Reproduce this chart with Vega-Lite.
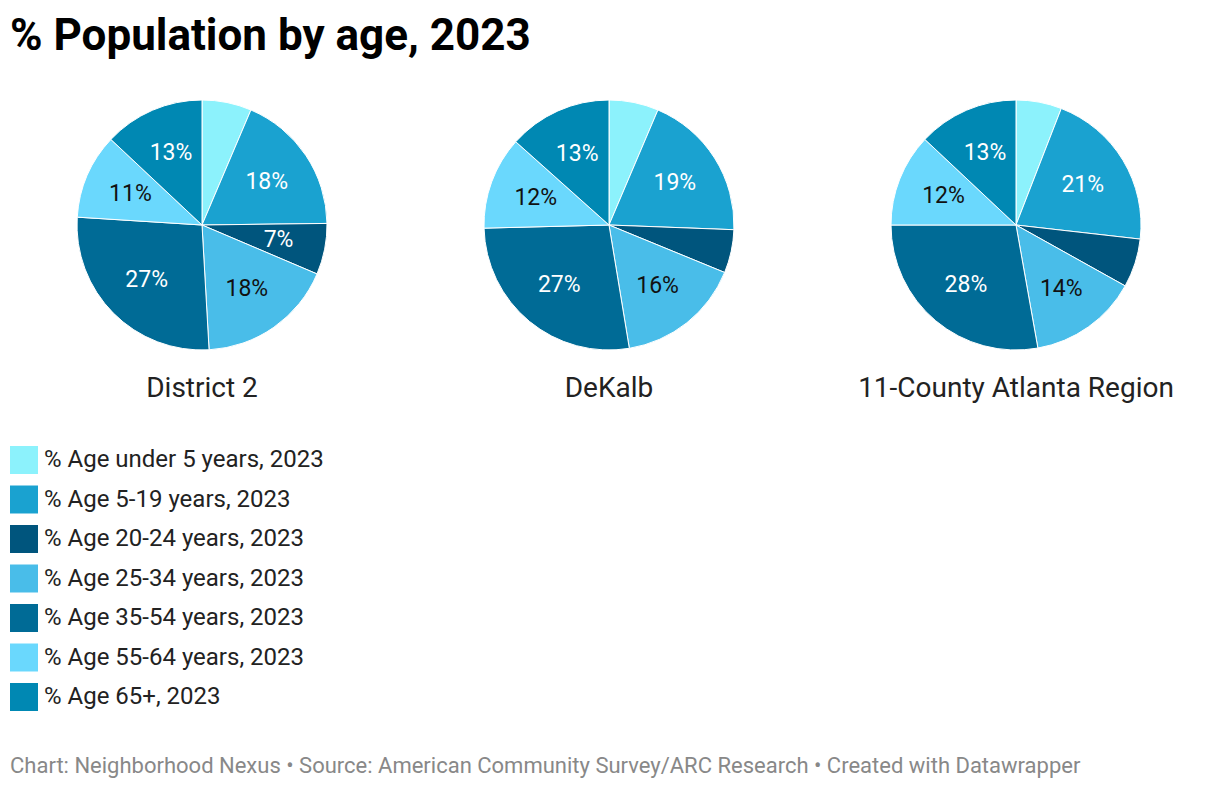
{
  "$schema": "https://vega.github.io/schema/vega-lite/v6.json",
  "background": "white",
  "padding": {"left": 10, "top": 15, "right": 5, "bottom": 10},
  "title": {
    "text": "Chart: Neighborhood Nexus • Source: American Community Survey/ARC Research • Created with Datawrapper",
    "orient": "bottom",
    "anchor": "start",
    "font": "Roboto",
    "fontSize": 22,
    "fontWeight": "normal",
    "color": "#888888",
    "offset": 45
  },
  "data": {
    "values": [
      {"region": "District 2", "age": "% Age under 5 years, 2023", "order": 1, "value": 0.064},
      {"region": "District 2", "age": "% Age 5-19 years, 2023", "order": 2, "value": 0.184},
      {"region": "District 2", "age": "% Age 20-24 years, 2023", "order": 3, "value": 0.066},
      {"region": "District 2", "age": "% Age 25-34 years, 2023", "order": 4, "value": 0.177},
      {"region": "District 2", "age": "% Age 35-54 years, 2023", "order": 5, "value": 0.269},
      {"region": "District 2", "age": "% Age 55-64 years, 2023", "order": 6, "value": 0.11},
      {"region": "District 2", "age": "% Age 65+, 2023", "order": 7, "value": 0.13},
      {"region": "DeKalb", "age": "% Age under 5 years, 2023", "order": 1, "value": 0.064},
      {"region": "DeKalb", "age": "% Age 5-19 years, 2023", "order": 2, "value": 0.192},
      {"region": "DeKalb", "age": "% Age 20-24 years, 2023", "order": 3, "value": 0.056},
      {"region": "DeKalb", "age": "% Age 25-34 years, 2023", "order": 4, "value": 0.162},
      {"region": "DeKalb", "age": "% Age 35-54 years, 2023", "order": 5, "value": 0.272},
      {"region": "DeKalb", "age": "% Age 55-64 years, 2023", "order": 6, "value": 0.12},
      {"region": "DeKalb", "age": "% Age 65+, 2023", "order": 7, "value": 0.134},
      {"region": "11-County Atlanta Region", "age": "% Age under 5 years, 2023", "order": 1, "value": 0.059},
      {"region": "11-County Atlanta Region", "age": "% Age 5-19 years, 2023", "order": 2, "value": 0.209},
      {"region": "11-County Atlanta Region", "age": "% Age 20-24 years, 2023", "order": 3, "value": 0.063},
      {"region": "11-County Atlanta Region", "age": "% Age 25-34 years, 2023", "order": 4, "value": 0.141},
      {"region": "11-County Atlanta Region", "age": "% Age 35-54 years, 2023", "order": 5, "value": 0.278},
      {"region": "11-County Atlanta Region", "age": "% Age 55-64 years, 2023", "order": 6, "value": 0.12},
      {"region": "11-County Atlanta Region", "age": "% Age 65+, 2023", "order": 7, "value": 0.13}
    ]
  },
  "facet": {
    "column": {
      "field": "region",
      "type": "nominal",
      "sort": ["District 2", "DeKalb", "11-County Atlanta Region"],
      "title": "% Population by age, 2023",
      "header": {
        "labelOrient": "bottom",
        "labelFont": "Roboto",
        "labelFontSize": 28,
        "labelColor": "#222222",
        "labelPadding": 23,
        "titleOrient": "top",
        "titleAnchor": "start",
        "titleFont": "Roboto",
        "titleFontSize": 44,
        "titleFontWeight": "bold",
        "titleColor": "#000000",
        "titlePadding": 29
      }
    }
  },
  "spacing": 23,
  "spec": {
    "width": 384,
    "height": 250,
    "view": {"stroke": null},
    "encoding": {
      "theta": {"field": "value", "type": "quantitative", "stack": true},
      "order": {"field": "order", "type": "quantitative"}
    },
    "layer": [
      {
        "mark": {"type": "arc", "outerRadius": 125, "stroke": "white", "strokeWidth": 1},
        "encoding": {
          "color": {
            "field": "age",
            "type": "nominal",
            "scale": {
              "domain": ["% Age under 5 years, 2023", "% Age 5-19 years, 2023", "% Age 20-24 years, 2023", "% Age 25-34 years, 2023", "% Age 35-54 years, 2023", "% Age 55-64 years, 2023", "% Age 65+, 2023"],
              "range": ["#8cf2fc", "#1aa2d0", "#00557d", "#49bde9", "#006b96", "#6ad8fd", "#0088b3"]
            },
            "legend": {
              "title": null,
              "orient": "bottom",
              "direction": "vertical",
              "symbolType": "square",
              "symbolSize": 784,
              "symbolStrokeWidth": 0,
              "labelFont": "Roboto",
              "labelFontSize": 24,
              "labelColor": "#222222",
              "labelOffset": 6,
              "rowPadding": 11.5,
              "offset": 43,
              "labelLimit": 500
            }
          }
        }
      },
      {
        "mark": {"type": "text", "radius": 78, "font": "Roboto", "fontSize": 23},
        "encoding": {
          "text": {
            "condition": {"test": "datum.value >= 0.065", "field": "value", "type": "quantitative", "format": ".0%"},
            "value": ""
          },
          "color": {
            "condition": {"test": "indexof(['% Age under 5 years, 2023','% Age 25-34 years, 2023','% Age 55-64 years, 2023'], datum.age) >= 0", "value": "#111111"},
            "value": "#ffffff"
          }
        }
      }
    ]
  }
}
